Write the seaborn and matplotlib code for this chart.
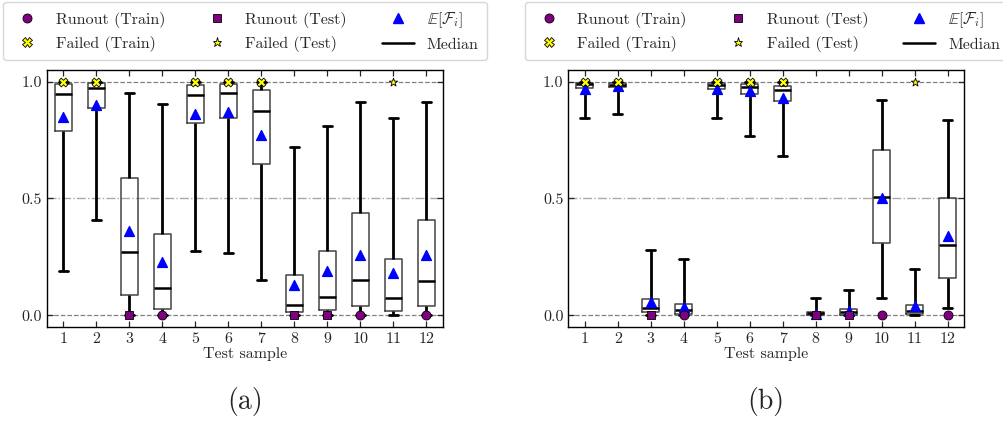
import numpy as np
import pandas as pd
import seaborn as sns
import matplotlib.pyplot as plt
from matplotlib.lines import Line2D

samples = list(range(1, 13))

# panel (a): box summaries
a_low = [0.189, 0.407, 0.0, 0.0, 0.277, 0.266, 0.153, 0.0, 0.0, 0.0, 0.0, 0.0]
a_q1 = [0.789, 0.886, 0.089, 0.029, 0.821, 0.846, 0.646, 0.013, 0.023, 0.041, 0.019, 0.039]
a_med = [0.949, 0.971, 0.270, 0.116, 0.943, 0.951, 0.873, 0.046, 0.080, 0.153, 0.076, 0.146]
a_q3 = [0.989, 0.994, 0.589, 0.350, 0.984, 0.989, 0.964, 0.171, 0.277, 0.436, 0.243, 0.409]
a_high = [1.0, 1.0, 0.951, 0.906, 1.0, 1.0, 1.0, 0.719, 0.809, 0.911, 0.843, 0.911]
a_mean = [0.850, 0.899, 0.360, 0.229, 0.860, 0.871, 0.770, 0.129, 0.190, 0.260, 0.180, 0.260]

# panel (b)
b_low = [0.843, 0.861, 0.0, 0.0, 0.843, 0.766, 0.684, 0.0, 0.0, 0.076, 0.0, 0.030]
b_q1 = [0.971, 0.976, 0.014, 0.007, 0.970, 0.947, 0.919, 0.001, 0.003, 0.309, 0.006, 0.159]
b_med = [0.989, 0.987, 0.030, 0.021, 0.987, 0.979, 0.964, 0.009, 0.013, 0.506, 0.020, 0.300]
b_q3 = [0.996, 0.994, 0.071, 0.047, 0.994, 0.991, 0.981, 0.016, 0.027, 0.709, 0.044, 0.504]
b_high = [1.0, 1.0, 0.281, 0.239, 1.0, 1.0, 1.0, 0.073, 0.107, 0.920, 0.200, 0.834]
b_mean = [0.967, 0.981, 0.057, 0.037, 0.967, 0.959, 0.930, 0.007, 0.017, 0.500, 0.039, 0.339]

# true outcome of each test sample
runout_train = [4, 10, 12]
runout_test = [3, 8, 9]
failed_train = [1, 2, 5, 6, 7]
failed_test = [11]

sns.set_style("ticks")
plt.rcParams['font.family'] = 'serif'
plt.rcParams['font.serif'] = ['cmr10']
plt.rcParams['mathtext.fontset'] = 'cm'
plt.rcParams['axes.formatter.use_mathtext'] = True
plt.rcParams['font.size'] = 11.5


def long_table(low, q1, med, q3, high):
    rows = []
    for s, vals in zip(samples, zip(low, q1, med, q3, high)):
        for v in vals:
            rows.append({'sample': s, 'value': v})
    return pd.DataFrame(rows)


def draw_panel(ax, low, q1, med, q3, high, mean):
    df = long_table(low, q1, med, q3, high)
    ax.axhline(0, color='gray', ls='--', lw=0.9, zorder=0)
    ax.axhline(1, color='gray', ls='--', lw=0.9, zorder=0)
    ax.axhline(0.5, color='darkgray', ls='-.', lw=1.0, zorder=0)
    sns.boxplot(data=df, x='sample', y='value', native_scale=True, width=0.52,
                whis=(0, 100), fill=False, showfliers=False, ax=ax,
                boxprops=dict(color='#444444', lw=1.1),
                whiskerprops=dict(color='black', lw=2.0),
                capprops=dict(color='black', lw=2.0),
                medianprops=dict(color='black', lw=1.8))
    ax.scatter(samples, mean, marker='^', color='blue', s=50, zorder=5)
    ax.scatter(runout_train, [0] * len(runout_train), marker='o', color='purple',
               edgecolor='black', lw=0.6, s=42, zorder=6)
    ax.scatter(runout_test, [0] * len(runout_test), marker='s', color='purple',
               edgecolor='black', lw=0.6, s=36, zorder=6)
    ax.scatter(failed_train, [1] * len(failed_train), marker='X', color='yellow',
               edgecolor='black', lw=0.6, s=40, zorder=6)
    ax.scatter(failed_test, [1] * len(failed_test), marker='*', color='yellow',
               edgecolor='black', lw=0.6, s=40, zorder=6)
    ax.set_xlim(0.5, 12.5)
    ax.set_ylim(-0.05, 1.05)
    ax.set_xticks(samples)
    ax.set_xticklabels([str(s) for s in samples])
    ax.set_yticks([0, 0.5, 1.0])
    ax.set_yticklabels(['0.0', '0.5', '1.0'])
    ax.set_xlabel('Test sample', labelpad=1)
    ax.set_ylabel('')
    ax.tick_params(direction='in', top=True, right=True, length=4, width=0.9)
    for sp in ax.spines.values():
        sp.set_visible(True)
        sp.set_color('black')
        sp.set_linewidth(1.0)

    handles = [
        Line2D([], [], ls='', marker='o', color='purple', mec='black', mew=0.6, ms=6.5),
        Line2D([], [], ls='', marker='X', color='yellow', mec='black', mew=0.6, ms=6.5),
        Line2D([], [], ls='', marker='s', color='purple', mec='black', mew=0.6, ms=6),
        Line2D([], [], ls='', marker='*', color='yellow', mec='black', mew=0.6, ms=6.5),
        Line2D([], [], ls='', marker='^', color='blue', ms=7),
        Line2D([], [], color='black', lw=1.8),
    ]
    labels = ['Runout (Train)', 'Failed (Train)', 'Runout (Test)', 'Failed (Test)',
              r'$\mathbb{E}[\mathcal{F}_i]$', 'Median']
    ax.legend(handles, labels, ncol=3, loc='lower center', bbox_to_anchor=(0.5, 1.04),
              frameon=True, columnspacing=2.2, handletextpad=0.8, fontsize=11.5,
              borderaxespad=0, borderpad=0.5)


fig = plt.figure(figsize=(10.04, 4.26), dpi=100)
ax_a = fig.add_axes([0.0468, 0.2324, 0.3944, 0.6033])
ax_b = fig.add_axes([0.566, 0.2324, 0.3944, 0.6033])
draw_panel(ax_a, a_low, a_q1, a_med, a_q3, a_high, a_mean)
draw_panel(ax_b, b_low, b_q1, b_med, b_q3, b_high, b_mean)
fig.text(0.244, 0.04, '(a)', ha='center', fontsize=20)
fig.text(0.763, 0.04, '(b)', ha='center', fontsize=20)

fig.savefig('out.png', dpi=100)
